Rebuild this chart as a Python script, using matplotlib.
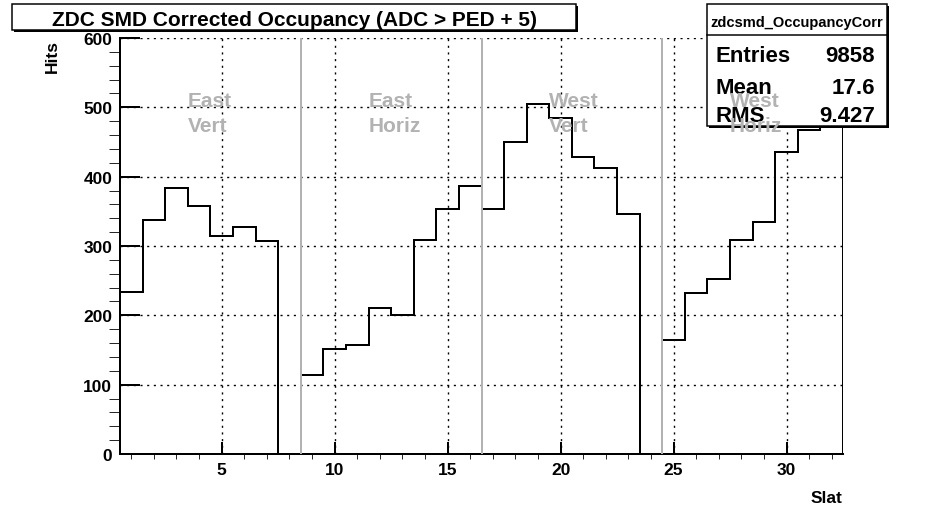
import matplotlib
matplotlib.use("Agg")
import matplotlib.pyplot as plt
from matplotlib.patches import Rectangle
from matplotlib.ticker import MultipleLocator
import numpy as np

# ---- data -------------------------------------------------------------
slat_edges = np.arange(0.5, 33.5, 1.0)          # 32 slats, unit-width bins
hits = [233, 338, 384, 357, 315, 328, 307, 0,
        114, 152, 157, 211, 200, 308, 353, 386,
        353, 450, 505, 484, 428, 413, 346, 0,
        165, 232, 253, 308, 334, 436, 468, 540]
plane_bounds = [8.5, 16.5, 24.5]
plane_side = ["East", "East", "West", "West"]
plane_view = ["Vert", "Horiz", "Vert", "Horiz"]
plane_start = [3.5, 11.5, 19.5, 27.5]
title = "ZDC SMD Corrected Occupancy (ADC > PED + 5)"
hist_name = "zdcsmd_OccupancyCorr"
stats_labels = ["Entries", "Mean", "RMS"]
stats_values = ["9858", "17.6", "9.427"]
x_label = "Slat"
y_label = "Hits"

# ---- style ------------------------------------------------------------
plt.rcParams["font.family"] = ["Liberation Sans", "DejaVu Sans"]
plt.rcParams["font.weight"] = "bold"
GRAY = "#b2b2b2"
W, H, DPI = 930, 506, 100
PX = 72.0 / DPI  # points per pixel


def fx(x):
    return x / W


def fy(y):
    return 1.0 - y / H


fig = plt.figure(figsize=(W / DPI, H / DPI), dpi=DPI)
fig.patch.set_facecolor("white")

ax_l, ax_r, ax_t, ax_b = 120, 843, 39, 455
ax = fig.add_axes([fx(ax_l), fy(ax_b), (ax_r - ax_l) / W, (ax_b - ax_t) / H])
ax.set_xlim(0.5, 32.5)
ax.set_ylim(0, 600)

for s in ("top", "right"):
    ax.spines[s].set_visible(False)
for s in ("left", "bottom"):
    ax.spines[s].set_linewidth(2 * PX)

ax.xaxis.set_major_locator(MultipleLocator(5))
ax.xaxis.set_minor_locator(MultipleLocator(1))
ax.yaxis.set_major_locator(MultipleLocator(100))
ax.yaxis.set_minor_locator(MultipleLocator(20))
ax.tick_params(direction="in", width=2 * PX, labelsize=12.5, pad=5.5,
               top=False, right=False)
ax.tick_params(axis="x", which="major", length=12 * PX)
ax.tick_params(axis="x", which="minor", length=5 * PX)
ax.tick_params(axis="y", which="major", length=20 * PX)
ax.tick_params(axis="y", which="minor", length=11 * PX)
for lab in ax.get_xticklabels() + ax.get_yticklabels():
    lab.set_fontweight("bold")

ax.grid(True, which="major", color="black", linestyle=(0, (1.5, 3.3)),
        linewidth=1.0, zorder=1)
ax.set_axisbelow(True)

# histogram outline
ax.stairs(hits, slat_edges, baseline=0, color="black", linewidth=2 * PX,
          zorder=3)

# plane separators
for b in plane_bounds:
    ax.axvline(b, color=GRAY, linewidth=2 * PX, zorder=4)

# plane labels
for x0, side, view in zip(plane_start, plane_side, plane_view):
    ax.text(x0, 502, side, color=GRAY, fontsize=15, fontweight="bold",
            ha="left", va="baseline", zorder=8)
    ax.text(x0, 466, view, color=GRAY, fontsize=15, fontweight="bold",
            ha="left", va="baseline", zorder=8)

# axis titles
fig.text(fx(842), fy(503), x_label, ha="right", va="baseline",
         fontsize=12.5, fontweight="bold")
fig.text(fx(52), fy(40), y_label, ha="center", va="top", rotation=90,
         fontsize=12.5, fontweight="bold")


def framed_box(x0, y0, x1, y1, z):
    """White box with a thin drop shadow, in figure pixel coordinates."""
    sh = Rectangle((fx(x0 + 2), fy(y1 + 2)), (x1 - x0) / W, (y1 - y0) / H,
                   transform=fig.transFigure, facecolor="black",
                   edgecolor="none", clip_on=False, zorder=z)
    bx = Rectangle((fx(x0), fy(y1)), (x1 - x0) / W, (y1 - y0) / H,
                   transform=fig.transFigure, facecolor="white",
                   edgecolor="black", linewidth=1.5 * PX, clip_on=False,
                   zorder=z + 0.1)
    ax.add_artist(sh)
    ax.add_artist(bx)


# title box
framed_box(12, 5, 576, 31, 6)
ax.text(fx(294), fy(19), title, transform=fig.transFigure, ha="center",
        va="center_baseline", fontsize=15, fontweight="bold", zorder=7)

# statistics box
sb_l, sb_r, sb_t, sb_b = 707, 887, 5, 127
framed_box(sb_l, sb_t, sb_r, sb_b, 6)
ax.plot([fx(sb_l), fx(sb_r)], [fy(36), fy(36)], transform=fig.transFigure,
        color="black", linewidth=1.5 * PX, clip_on=False, zorder=7)
ax.text(fx((sb_l + sb_r) / 2), fy(21), hist_name, transform=fig.transFigure,
        ha="center", va="center_baseline", fontsize=10.5, fontweight="bold",
        zorder=7)
for yb, lab, val in zip([62, 94, 122], stats_labels, stats_values):
    ax.text(fx(715), fy(yb), lab, transform=fig.transFigure, ha="left",
            va="baseline", fontsize=16, fontweight="bold", zorder=7)
    ax.text(fx(875), fy(yb), val, transform=fig.transFigure, ha="right",
            va="baseline", fontsize=16, fontweight="bold", zorder=7)

fig.savefig("out.png", dpi=DPI, facecolor="white")
